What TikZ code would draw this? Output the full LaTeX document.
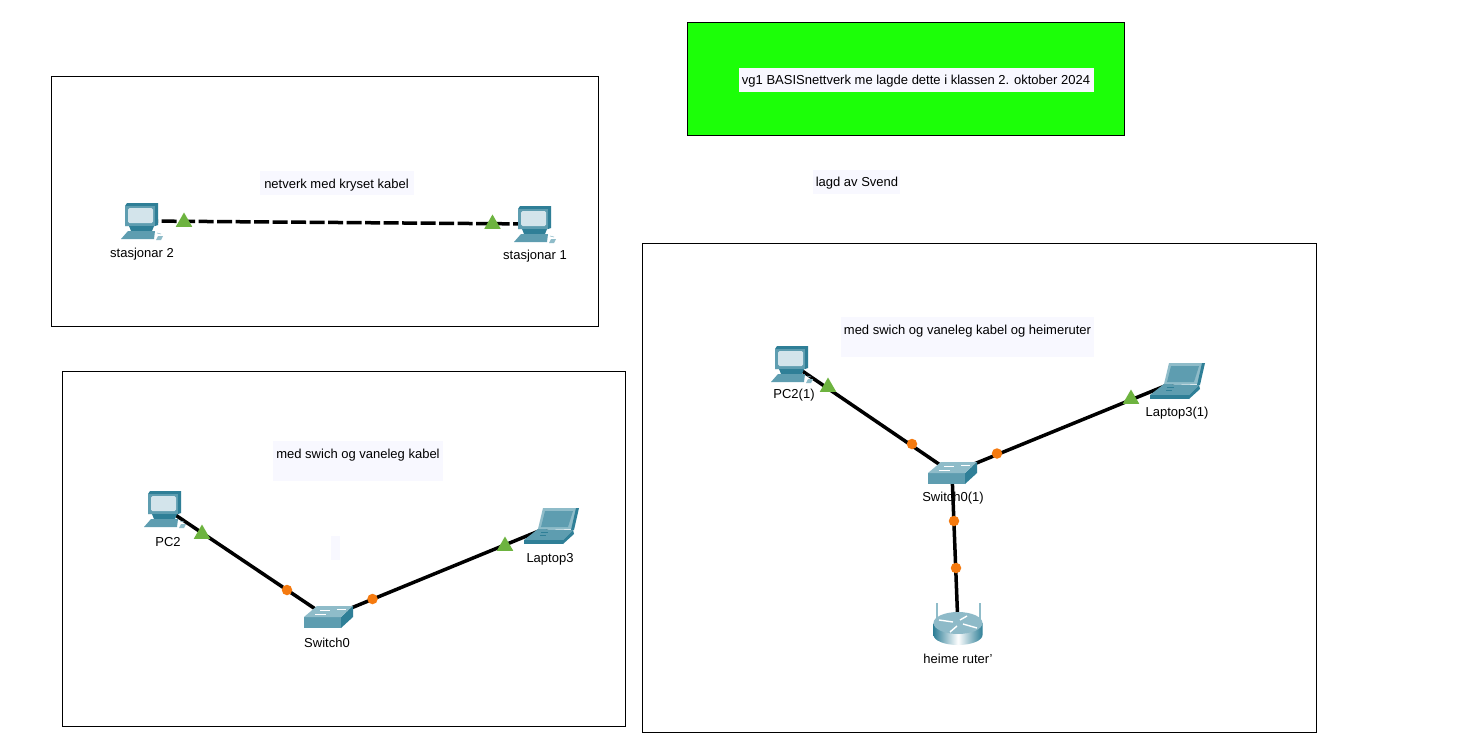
\documentclass[tikz,border=0pt]{standalone}
\usepackage{fontspec}
\setmainfont{Liberation Sans}
\usetikzlibrary{shapes.geometric}
\definecolor{teal1}{HTML}{5E9DB0}
\definecolor{teal2}{HTML}{2F7F97}
\definecolor{teal3}{HTML}{8FBCC9}
\definecolor{screen}{HTML}{D3E4EB}
\definecolor{note}{HTML}{F8F8FF}
\definecolor{tri}{HTML}{6DB33F}
\definecolor{dotc}{HTML}{F57A0F}
\tikzset{
  x=1pt,y=-1pt,
  frame/.style={draw=black,line width=0.8pt,fill=white},
  lbl/.style={font=\fontsize{13}{15}\selectfont,inner sep=0pt,text=black},
  notebox/.style={fill=note,inner sep=0pt,font=\fontsize{13}{15}\selectfont},
  link/.style={line width=3.5pt,draw=black},
  xlink/.style={link,dash pattern=on 15pt off 3.5pt},
  up/.style={regular polygon,regular polygon sides=3,fill=tri,inner sep=0pt,minimum size=19pt},
  on/.style={circle,fill=dotc,inner sep=0pt,minimum size=10.5pt},
  dev/.style={inner sep=0pt,minimum size=2pt},
  pc/.pic={
    \fill[teal2] (-15,-18) -- (16,-18) -- (16,4) -- (13,5) -- (-17,5) -- (-17,-15) -- cycle;
    \fill[teal1] (-17,-15) -- (13,-15) -- (13,5) -- (-17,5) -- cycle;
    \fill[screen,rounded corners=1.5pt] (-14,-13) -- (11,-13) -- (11,2) -- (-14,2) -- cycle;
    \fill[teal2] (-13,5) -- (12,5) -- (10,10) -- (-11,10) -- cycle;
    \fill[teal1] (-21,18) -- (-14,10) -- (13,10) -- (12,18) -- cycle;
    \fill[teal3] (16,15) -- (21,15) -- (19,19) -- (14,19) -- cycle;
    \draw[teal3,line width=0.6pt] (15,12) -- (19,13);
  },
  laptop/.pic={
    \fill[teal3] (-13,3) -- (-8,-18) -- (27,-18) -- (21,3) -- cycle;
    \fill[teal2] (25,-18) -- (28,-18) -- (23,4) -- (20,4) -- cycle;
    \fill[teal1] (-10,1) -- (-6,-15) -- (22,-15) -- (17,1) -- cycle;
    \fill[teal1] (-27,14) -- (-13,3) -- (22,4) -- (12,14) -- cycle;
    \fill[teal2] (-27,14) -- (12,14) -- (12,18) -- (-27,18) -- cycle;
    \fill[teal2] (12,18) -- (12,14) -- (22,4) -- (23,8) -- cycle;
    \draw[teal2,line width=0.5pt] (-10,6) -- (-3,6) (-11,9) -- (-5,9);
  },
  switch/.pic={
    \fill[teal2] (13,0) -- (25,-11) -- (25,0) -- (13,11) -- cycle;
    \fill[teal1] (-24,0) -- (13,0) -- (13,11) -- (-24,11) -- cycle;
    \fill[teal3] (-24,0) -- (-11,-11) -- (25,-11) -- (13,0) -- cycle;
    \draw[white,line width=0.7pt] (-8,-7) -- (2,-7) (9,-8) -- (18,-8) (-13,-3) -- (-2,-3);
  },
  router/.pic={
    \fill[teal3] (-22,-24) rectangle (-20,-6);
    \fill[teal3] (21,-24) rectangle (23,-6);
    \shade[left color=teal2,right color=teal2,middle color=white] (-24.5,-4) -- (-24.5,8) arc[start angle=180,end angle=360,x radius=24.5pt,y radius=10pt] -- (24.5,-4) -- cycle;
    \fill[teal1!70!white] (0,-4) ellipse[x radius=24.5pt,y radius=11pt];
    \draw[white,line width=1.4pt] (-19,-7) -- (-5,-5) (19,1) -- (5,-3) (-8,5) -- (-1,-1) (9,-11) -- (2,-7);
  }
}
\begin{document}
\begin{tikzpicture}
\useasboundingbox (0,0) rectangle (1462,747);
\node[frame,minimum width=547pt,minimum height=250pt,inner sep=0pt,anchor=north west] (frameA) at (51,76) {};
\node[frame,minimum width=563pt,minimum height=355pt,inner sep=0pt,anchor=north west] (frameB) at (62,371) {};
\node[frame,minimum width=674pt,minimum height=489pt,inner sep=0pt,anchor=north west] (frameC) at (642,243) {};
\node[draw=black,line width=0.8pt,fill={rgb,255:red,28;green,255;blue,8},minimum width=437pt,minimum height=113pt,inner sep=0pt,anchor=north west] (banner) at (687,22) {};
\node[notebox,minimum width=355pt,minimum height=24pt] (title) at (916.5,80) {};
\node[lbl] (titlet) at (916,81) {vg1 BASISnettverk me lagde dette i klassen 2. oktober 2024};

\node[notebox,minimum width=154pt,minimum height=24pt] (noteA) at (336.5,183) {};
\node[lbl] (noteAt) at (336.5,185) {netverk med kryset kabel};
\node[notebox,minimum width=87pt,minimum height=24pt] (authorbg) at (856.5,182) {};
\node[lbl] (author) at (857,183) {lagd av Svend};
\node[notebox,minimum width=253pt,minimum height=40pt,anchor=north west] (noteC) at (841,317) {};
\node[lbl,anchor=north] (noteCt) at (967.5,325) {med swich og vaneleg kabel og heimeruter};
\node[notebox,minimum width=170pt,minimum height=40pt,anchor=north west] (noteB) at (273,441) {};
\node[lbl,anchor=north] (noteBt) at (358,449) {med swich og vaneleg kabel};
\node[notebox,minimum width=9pt,minimum height=24pt] (noteE) at (335.5,548) {};

% devices
\node[dev] (st2) at (142,221) {};
\node[dev] (st1) at (535,224) {};
\node[dev] (pcb) at (165,508) {};
\node[dev] (swb) at (328,617.5) {};
\node[dev] (lab) at (551,526) {};
\node[dev] (pcc) at (792,364) {};
\node[dev] (swc) at (952,473) {};
\node[dev] (lac) at (1177,381) {};
\node[dev] (rtc) at (958,627) {};

% links
\draw[xlink] (st2) -- (st1);
\draw[link] (pcb) -- (swb);
\draw[link] (swb) -- (lab);
\draw[link] (pcc) -- (swc);
\draw[link] (swc) -- (lac);
\draw[link] (swc) -- (rtc);

% icons
\pic at (142,221) {pc};
\pic at (535,224) {pc};
\pic at (165,509) {pc};
\pic at (792,364) {pc};
\pic at (551,526) {laptop};
\pic at (1177,381) {laptop};
\pic at (328,617) {switch};
\pic at (952,473) {switch};
\pic at (958,627) {router};

% link lights
\node[up] (t1) at (184,222) {};
\node[up] (t2) at (492.5,224) {};
\node[up] (t3) at (202,534) {};
\node[up] (t4) at (505,546) {};
\node[up] (t5) at (828,387) {};
\node[up] (t6) at (1131,399) {};
\node[on] (d1) at (287,590) {};
\node[on] (d2) at (372.5,599) {};
\node[on] (d3) at (912,444) {};
\node[on] (d4) at (997,453.5) {};
\node[on] (d5) at (954,521) {};
\node[on] (d6) at (956,568) {};

% labels
\node[lbl] (l1) at (142,254) {stasjonar 2};
\node[lbl] (l2) at (535,256) {stasjonar 1};
\node[lbl] (l3) at (168,542) {PC2};
\node[lbl] (l4) at (550,559) {Laptop3};
\node[lbl] (l5) at (327,643) {Switch0};
\node[lbl] (l6) at (794,395) {PC2(1)};
\node[lbl] (l7) at (1177,413) {Laptop3(1)};
\node[lbl] (l8) at (953,498) {Switch0(1)};
\node[lbl] (l9) at (958,659) {heime ruter'};
\end{tikzpicture}
\end{document}
